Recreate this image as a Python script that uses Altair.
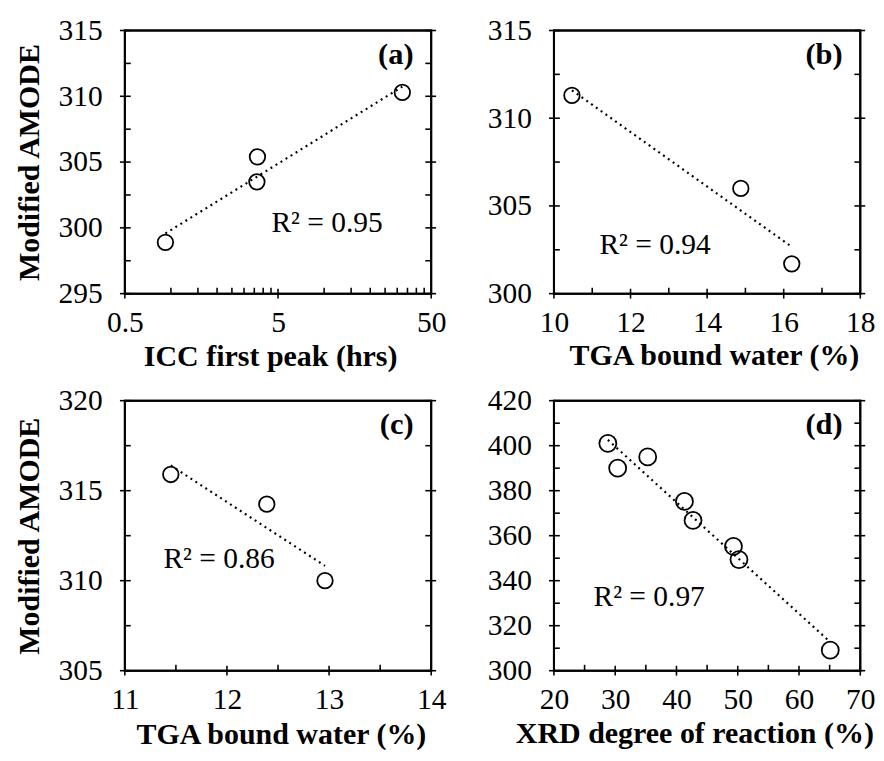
import altair as alt
import pandas as pd

FONT = "Liberation Serif"

# ---- data ----
A_X = [0.92, 3.67, 3.64, 32.4]
A_Y = [298.9, 305.4, 303.5, 310.3]
B_X = [10.47, 14.88, 16.21]
B_Y = [311.3, 306.0, 301.7]
C_X = [11.45, 12.39, 12.96]
C_Y = [315.9, 314.25, 310.0]
D_X = [28.8, 30.4, 35.3, 41.3, 42.7, 49.3, 50.2, 65.1]
D_Y = [401.0, 390.0, 395.0, 375.2, 366.8, 355.2, 349.4, 309.1]

# ---- tick values ----
A_XMAJ = [0.5, 5, 50]
A_XMIN = [1, 1.5, 2, 2.5, 3, 3.5, 4, 4.5, 10, 15, 20, 25, 30, 35, 40, 45]
A_YMAJ = [295, 300, 305, 310, 315]
A_YMIN = [297.5, 302.5, 307.5, 312.5]
B_XMAJ = [10, 12, 14, 16, 18]
B_XMIN = [11, 13, 15, 17]
B_YMAJ = [300, 305, 310, 315]
B_YMIN = [302.5, 307.5, 312.5]
C_XMAJ = [11, 12, 13, 14]
C_XMIN = [11.5, 12.5, 13.5]
C_YMAJ = [305, 310, 315, 320]
C_YMIN = [307.5, 312.5, 317.5]
D_XMAJ = [20, 30, 40, 50, 60, 70]
D_XMIN = [25, 35, 45, 55, 65]
D_YMAJ = [300, 320, 340, 360, 380, 400, 420]
D_YMIN = [310, 330, 350, 370, 390, 410]

TITLES_X = ["ICC first peak (hrs)", "TGA bound water (%)", "TGA bound water (%)",
            "XRD degree of reaction (%)"]
TITLE_Y = "Modified AMODE"
R2 = ["R\u00b2 = 0.95", "R\u00b2 = 0.94", "R\u00b2 = 0.86", "R\u00b2 = 0.97"]
TAGS = ["(a)", "(b)", "(c)", "(d)"]

W = 312


def panel(xs, ys, xmaj, xmin, ymaj, ymin, xtitle, ytitle, xdom, ydom, xtype,
          method, r2, tag, r2x, r2y, size, H, tdx, tdy):
    xsc = alt.Scale(type=xtype, domain=xdom, nice=False, zero=False)
    ysc = alt.Scale(domain=ydom, nice=False, zero=False)
    common = dict(ticks=False, domain=False, grid=False, labelFont=FONT,
                  labelFontSize=30, labelColor="black", titleFont=FONT,
                  titleFontSize=30.5, titleFontWeight="bold", titleColor="black",
                  labelFlush=False, labelOverlap=False, format="~f")
    xaxis = alt.Axis(values=xmaj, labelPadding=38.5, labelBaseline="alphabetic",
                     title=xtitle, titleBaseline="alphabetic",
                     titleX=W / 2 + tdx, titleY=tdy, **common)
    if ytitle:
        yaxis = alt.Axis(values=ymaj, labelPadding=23, title=ytitle,
                         titleBaseline="alphabetic", titleX=-88, **common)
    else:
        yaxis = alt.Axis(values=ymaj, labelPadding=23, title=None, **common)

    pts = pd.DataFrame({"x": xs, "y": ys})
    base = alt.Chart(pts)
    points = base.mark_point(shape="circle", filled=False, color="black",
                             strokeWidth=1.8, size=size, opacity=1).encode(
        x=alt.X("x:Q", scale=xsc, axis=xaxis),
        y=alt.Y("y:Q", scale=ysc, axis=yaxis))
    line = base.transform_regression("x", "y", method=method).mark_line(
        color="black", strokeDash=[2, 4], strokeWidth=2.2).encode(
        x=alt.X("x:Q", scale=xsc),
        y=alt.Y("y:Q", scale=ysc))

    rule = dict(color="black", strokeWidth=1.6, opacity=1)
    ymj = alt.Chart(pd.DataFrame({"y": ymaj}))
    ymn = alt.Chart(pd.DataFrame({"y": ymin}))
    xmj = alt.Chart(pd.DataFrame({"x": xmaj}))
    xmn = alt.Chart(pd.DataFrame({"x": xmin}))
    Y = alt.Y("y:Q", scale=ysc)
    X = alt.X("x:Q", scale=xsc)
    t1 = ymj.mark_rule(**rule).encode(y=Y, x=alt.value(-5), x2=alt.value(6))
    t2 = ymj.mark_rule(**rule).encode(y=Y, x=alt.value(W - 6), x2=alt.value(W + 5))
    t3 = ymn.mark_rule(**rule).encode(y=Y, x=alt.value(0), x2=alt.value(6))
    t4 = ymn.mark_rule(**rule).encode(y=Y, x=alt.value(W - 6), x2=alt.value(W))
    t5 = xmj.mark_rule(**rule).encode(x=X, y=alt.value(H - 5), y2=alt.value(H + 5))
    t6 = xmn.mark_rule(**rule).encode(x=X, y=alt.value(H - 6), y2=alt.value(H))

    # plot frame
    frame = alt.Chart(pd.DataFrame({"f": [0]})).mark_rect(
        fillOpacity=0, stroke="black", strokeWidth=2).encode(
        x=alt.value(0), x2=alt.value(W), y=alt.value(0), y2=alt.value(H))

    txt = pd.DataFrame({"t": [r2], "g": [tag]})
    ann = alt.Chart(txt).mark_text(font=FONT, fontSize=30, color="black",
                                   align="center", baseline="alphabetic").encode(
        text="t:N", x=alt.value(r2x), y=alt.value(r2y))
    lab = alt.Chart(txt).mark_text(font=FONT, fontSize=31, fontWeight="bold",
                                   color="black", align="right",
                                   baseline="alphabetic").encode(
        text="g:N", x=alt.value(W - 18), y=alt.value(34))
    return alt.layer(points, line, t1, t2, t3, t4, t5, t6, frame, ann, lab).properties(
        width=W, height=H)


pa = panel(A_X, A_Y, A_XMAJ, A_XMIN, A_YMAJ, A_YMIN, TITLES_X[0], TITLE_Y,
           [0.5, 50], [295, 315], "log", "log", R2[0], TAGS[0], 206, 205, 250,
           268, -8, 73)
pb = panel(B_X, B_Y, B_XMAJ, B_XMIN, B_YMAJ, B_YMIN, TITLES_X[1], None,
           [10, 18], [300, 315], "linear", "linear", R2[1], TAGS[1], 103, 228, 250,
           268, 7, 72)
pc = panel(C_X, C_Y, C_XMAJ, C_XMIN, C_YMAJ, C_YMIN, TITLES_X[2], TITLE_Y,
           [11, 14], [305, 320], "linear", "linear", R2[2], TAGS[2], 96, 170, 250,
           275, 3, 74)
pd_ = panel(D_X, D_Y, D_XMAJ, D_XMIN, D_YMAJ, D_YMIN, TITLES_X[3], None,
            [20, 70], [300, 420], "linear", "linear", R2[3], TAGS[3], 97, 209, 300,
            275, -13, 73)

chart = alt.vconcat(
    alt.hconcat(pa, pb, spacing=40),
    alt.hconcat(pc, pd_, spacing=40),
    spacing=12,
).properties(
    padding={"left": 5, "top": 0, "right": 0, "bottom": 0},
).configure(font=FONT, background="white").configure_view(
    stroke="black", strokeWidth=2).configure_axis(labelFont=FONT, titleFont=FONT)

chart.save("out.html", embed_options={"renderer": "svg", "actions": False})
